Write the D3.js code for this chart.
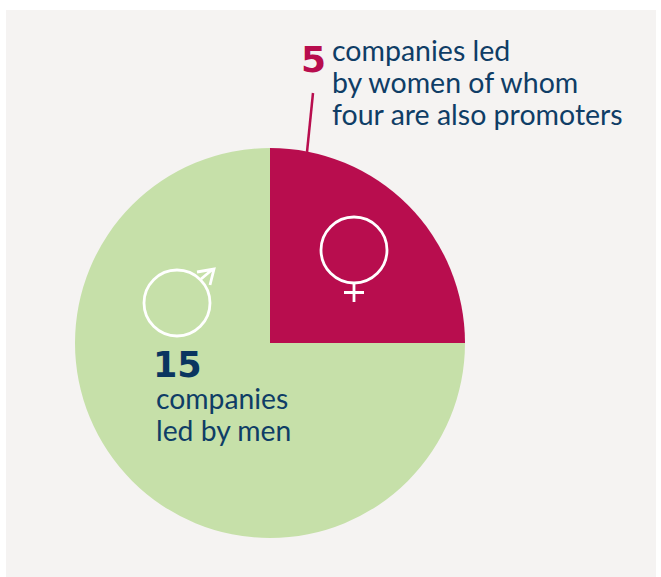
<!DOCTYPE html>
<html><head><meta charset="utf-8">
<script src="https://cdnjs.cloudflare.com/ajax/libs/d3/7.8.5/d3.min.js"></script>
<style>html,body{margin:0;padding:0;background:#fff}svg{display:block}</style>
</head><body><div id="c"></div>
<script>
const categories=["women","men"];
const values=[5,15];
const colors=["#b80d4e","#c6e0a9"];
const headline=["5","15"];
const womenLines=["companies led","by women of whom","four are also promoters"];
const menLines=["companies","led by men"];
const W=661,H=577,cx=270,cy=343,R=195;
const svg=d3.select("#c").append("svg").attr("width",W).attr("height",H);
svg.append("rect").attr("x",6).attr("y",10).attr("width",650).attr("height",567).attr("fill","#f5f3f2");
const pie=d3.pie().sort(null)(values);
const arc=d3.arc().innerRadius(0).outerRadius(R);
const g=svg.append("g").attr("transform",`translate(${cx},${cy})`);
g.selectAll("path").data(pie).join("path").attr("d",arc).attr("fill",(d,i)=>colors[i]);
svg.append("line").attr("x1",313).attr("y1",93).attr("x2",307).attr("y2",152).attr("stroke",colors[0]).attr("stroke-width",2.5);
const font="Lato, 'Noto Sans', sans-serif", ink="#0f3d66";
const t=(s,x,y,size,weight,fill,f)=>svg.append("text").attr("x",x).attr("y",y).attr("font-family",f||font).attr("font-size",size).attr("font-weight",weight).attr("fill",fill).text(s);
const bold="'DejaVu Sans', sans-serif";
t(headline[0],301,72,36,700,colors[0],bold);
womenLines.forEach((s,i)=>t(s,332,61+i*32,28.5,400,ink));
t(headline[1],153,377,35,700,"#0a3560",bold);
menLines.forEach((s,i)=>t(s,156,409+i*32,28.3,400,ink));
const sym=svg.append("g").attr("fill","none").attr("stroke","#fff").attr("stroke-width",2.8);
sym.append("circle").attr("cx",177).attr("cy",303).attr("r",33);
sym.append("path").attr("d","M201 279L213 269M197 272L214 269L210 285");
sym.append("circle").attr("cx",354).attr("cy",250).attr("r",33);
sym.append("path").attr("d","M354 283V302M344 292.500H364");
</script></body></html>
